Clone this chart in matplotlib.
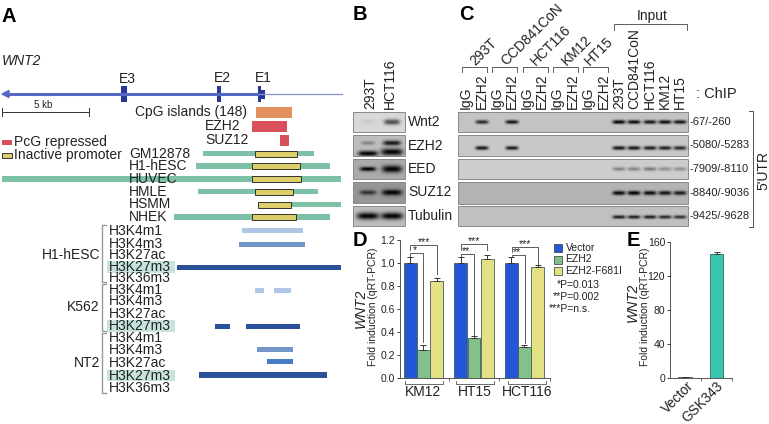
import numpy as np
import matplotlib
matplotlib.use("Agg")
import matplotlib.pyplot as plt
from matplotlib.patches import Rectangle

plt.rcParams['font.family'] = ['Liberation Sans', 'DejaVu Sans']
W, H = 769, 424
fig = plt.figure(figsize=(W/100, H/100), dpi=100)

# ---------- data ----------
d_groups = ['KM12', 'HT15', 'HCT116']
d_series = ['Vector', 'EZH2', 'EZH2-F681I']
d_vector = [1.0, 1.0, 1.0]
d_ezh2 = [0.245, 0.35, 0.27]
d_mut = [0.845, 1.035, 0.965]
d_vector_err = [0.05, 0.05, 0.05]
d_ezh2_err = [0.045, 0.015, 0.02]
d_mut_err = [0.025, 0.035, 0.02]
d_colors = ['#2456D8', '#82C08C', '#E4E084']
e_labels = ['Vector', 'GSK343']
e_vals = [1.0, 146.0]
e_err = [0.3, 2.5]

exons = [(121, 127), (216.5, 221), (258, 261)]
exon_labels = ['E3', 'E2', 'E1']
pcg = [('CpG islands (148)', 256, 292, '#E2915F'), ('EZH2', 252, 287, '#D9505A'), ('SUZ12', 280, 289, '#D9505A')]
chrom_names = ['GM12878', 'H1-hESC', 'HUVEC', 'HMLE', 'HSMM', 'NHEK']
chrom_green = [(203, 314), (196, 330), (2, 341), (198, 318), (258, 341), (174, 330)]
chrom_yellow = [(255, 297), (252, 300), (252, 301), (255, 293), (258, 291), (252, 296)]
marks_a = ['H3K4m1', 'H3K4m3', 'H3K27ac', 'H3K27m3', 'H3K36m3']
marks_b = ['H3K4m1', 'H3K4m3', 'H3K27ac', 'H3K27m3']
marks_c = ['H3K4m1', 'H3K4m3', 'H3K27ac', 'H3K27m3', 'H3K36m3']

bg = fig.add_axes([0, 0, 1, 1])
bg.set_zorder(5)
bg.set_xlim(0, W); bg.set_ylim(H, 0); bg.axis('off')

def T(x, y, s, size=10, ha='left', va='center', **kw):
    return bg.text(x, y, s, fontsize=size, ha=ha, va=va, color=kw.pop('color', '#222222'), **kw)

def R(x0, x1, yc, h, color, **kw):
    bg.add_patch(Rectangle((x0, yc-h/2), x1-x0, h, facecolor=color, **kw))

for x, y, s in [(1, 16, 'A'), (353, 15, 'B'), (459, 15, 'C'), (353, 240, 'D'), (627, 240, 'E')]:
    T(x, y, s, size=14.5, weight='bold', color='black')

# ---------- panel A ----------
T(2, 61, 'WNT2', size=10, style='italic')
bg.plot([5, 259], [94, 94], color='#5668C4', lw=2.2, solid_capstyle='butt')
bg.plot([259, 342], [94, 94], color='#8A93CE', lw=0.9)
bg.fill([2, 9, 9], [94, 90.5, 97.5], color='#5668C4')
for (a, b), s in zip(exons, exon_labels):
    R(a, b, 94, 16, '#27399A')
    T((a+b)/2+3.5, 78.5 if s != 'E3' else 79, s, size=10, ha='center')
R(258, 265, 94, 9, '#27399A')
bg.plot([2, 89], [112, 112], color='#333333', lw=0.7)
for x in (2, 89):
    bg.plot([x, x], [108, 116], color='#333333', lw=0.7)
T(43, 105.5, '5 kb', size=7, ha='center')
ys_pcg = [112, 126, 140]
for (s, a, b, c), y, tx in zip(pcg, ys_pcg, [135, 205, 205]):
    R(a, b, y, 11, c)
    T(tx, y, s)
R(2, 12, 142, 5, '#D9505A')
T(14, 142, 'PcG repressed')
R(2, 12, 155.5, 5, '#DCCF6A', edgecolor='#333333', lw=0.7)
T(14, 155.5, 'Inactive promoter')
ys_chrom = [153.5, 166, 179, 191.5, 204.5, 217]
for name, (a, b), (c, d), y in zip(chrom_names, chrom_green, chrom_yellow, ys_chrom):
    R(a, b, y, 5.5, '#7CC0A6')
    R(c, d, y, 6, '#DCCF6A', edgecolor='#333333', lw=0.7)
    T(129, y, name)

def track_block(names, ys, highlight):
    for n, y in zip(names, ys):
        if n == highlight:
            R(107, 175, y, 11.5, '#C6E3DD')
        T(109, y, n)

ys_a = [231, 243.5, 255, 267, 278.5]
ys_b = [289.5, 301, 314, 326]
ys_c = [338, 350, 363, 375.5, 388]
track_block(marks_a, ys_a, 'H3K27m3')
track_block(marks_b, ys_b, 'H3K27m3')
track_block(marks_c, ys_c, 'H3K27m3')
for y0, y1 in [(225, 282), (284, 331), (333, 393)]:
    bg.plot([106, 102, 102, 106], [y0, y0, y1, y1], color='#999999', lw=1.0)
T(100, 255, 'H1-hESC', ha='right')
T(100, 307, 'K562', ha='right')
T(100, 363, 'NT2', ha='right')

c1, c2, c3, c4 = '#AFC6E6', '#7396C8', '#477BC6', '#2B5198'
R(242, 303, 230.5, 5, c1)
R(239, 305, 244, 5, c2)
R(177, 341, 267.5, 5.5, c4)
R(255, 264, 290, 5, c1)
R(274, 291, 290, 5, c1)
R(215, 230, 326.5, 5.5, c4)
R(246, 300, 326.5, 5.5, c4)
R(257, 293, 349.5, 5.5, c2)
R(267, 293, 361.5, 5.5, c3)
R(199, 327, 375, 5.5, c4)

# ---------- blots ----------
lanes_c = [466, 482, 497, 512, 527, 542, 557, 573, 588, 604, 619, 634, 650, 665, 680]
c_rows = [
    (112, 132, 122, [0, .8, 0, .9, 0, 0, 0, 0, 0, 0, 1, .95, .9, .95, .9], 196, 2.0),
    (135, 156, 148, [0, .9, 0, .85, 0, 0, 0, 0, 0, 0, .9, .9, .85, .85, .8], 200, 2.0),
    (159, 179, 169, [0, 0, 0, 0, 0, 0, 0, 0, 0, 0, .35, .35, .4, .3, .3], 205, 2.0),
    (182, 204, 193, [0, 0, 0, 0, 0, 0, 0, 0, 0, 0, .95, 1, .95, .9, .85], 180, 2.2),
    (206, 226, 217, [0, 0, 0, 0, 0, 0, 0, 0, 0, 0, .85, .85, .85, .8, .75], 192, 1.8),
]
c_rlabels = ['-67/-260', '-5080/-5283', '-7909/-8110', '-8840/-9036', '-9425/-9628']
b_rows = [
    (112, 132, 'Wnt2', 216, [(368, 122, 2.5, .06, 6), (392, 122, 2.8, .65, 8)]),
    (135, 156, 'EZH2', 190, [(368, 143, 2.0, .3, 7), (392, 143, 2.6, .9, 9), (368, 153.5, 2.8, 1.0, 10), (392, 152, 3.6, 1.0, 11)]),
    (159, 179, 'EED', 170, [(368, 169, 2.2, 1.0, 8), (392, 169, 3.6, 1.0, 10)]),
    (182, 203, 'SUZ12', 150, [(368, 192.5, 2.4, .7, 8), (392, 192.5, 3.0, 1.0, 10)]),
    (206, 226, 'Tubulin', 190, [(368, 216, 3.6, 1.0, 11), (392, 216, 3.6, 1.0, 11)]),
]

def blot_image(x0, x1, y0, y1, base, bands):
    xs = np.arange(x0, x1) + .5
    ys = np.arange(y0, y1) + .5
    X, Y = np.meshgrid(xs, ys)
    img = np.full(X.shape, float(base))
    for bx, by, sy, amp, sx in bands:
        g = np.exp(-((np.abs(X-bx)/sx)**4)) * np.exp(-((Y-by)/sy)**2)
        img *= 1 - np.clip(amp*g, 0, 1)*0.97
    bg.imshow(img, extent=(x0, x1, y1, y0), cmap='gray', vmin=0, vmax=255, aspect='auto', zorder=1, interpolation='bilinear')
    bg.add_patch(Rectangle((x0, y0), x1-x0, y1-y0, fill=False, edgecolor='#8a8a8a', lw=.7, zorder=2))

for (y0, y1, yb, amps, base, sy), lab in zip(c_rows, c_rlabels):
    bands = [(lx, yb, sy, a, 6.5) for lx, a in zip(lanes_c, amps) if a > 0]
    blot_image(458, 688, y0, y1, base, bands)
    T(690, (y0+y1)/2, lab, size=8)

for y0, y1, lab, base, bands in b_rows:
    blot_image(353, 405, y0, y1, base, bands)
    T(408, (y0+y1)/2, lab)
bg.set_xlim(0, W); bg.set_ylim(H, 0)

T(370, 109, '293T', rotation=90, ha='center', va='bottom')
T(390, 109, 'HCT116', rotation=90, ha='center', va='bottom')

# panel C labels
for i, x in enumerate(lanes_c[:10]):
    T(x, 109, 'IgG' if i % 2 == 0 else 'EZH2', rotation=90, ha='center', va='bottom')
cell_lines = ['293T', 'CCD841CoN', 'HCT116', 'KM12', 'HT15']
for x, s in zip(lanes_c[10:], cell_lines):
    T(x, 109, s, rotation=90, ha='center', va='bottom')
br_left = [462, 492, 523, 553, 583]
br_right = [487, 517, 548, 578, 608]
name_x = [472, 503, 533, 564, 587]
for xl, xr, nx, s in zip(br_left, br_right, name_x, cell_lines):
    bg.plot([xl, xl, xr, xr], [72, 66.5, 66.5, 72], color='#444444', lw=.6)
    T(nx, 63, s, rotation=45, ha='left', va='center', rotation_mode='anchor')
bg.plot([614, 614, 687, 687], [30, 24, 24, 30], color='#444444', lw=.6)
T(652, 16, 'Input', ha='center')
T(696, 94, ': ChIP', size=10.5)
bg.plot([749, 753, 753, 749], [111, 111, 227, 227], color='#333333', lw=.6)
T(763, 170, "5'UTR", size=10, rotation=90, ha='center')

# ---------- panel D ----------
axd = fig.add_axes([400/W, 1-378/H, 150/W, 138/H])
x = np.arange(3)
bw = .262
for k, (vals, errs, col, name) in enumerate(zip([d_vector, d_ezh2, d_mut], [d_vector_err, d_ezh2_err, d_mut_err], d_colors, d_series)):
    axd.bar(x+(k-1)*bw, vals, bw*.96, color=col, edgecolor='#40605a', lw=.6,
            yerr=[np.zeros(3), errs], error_kw=dict(ecolor='#333333', elinewidth=.7, capsize=2, capthick=.7))
axd.set_xlim(-.465, 2.505)
axd.set_ylim(0, 1.2)
axd.set_yticks([0, .2, .4, .6, .8, 1.0, 1.2])
axd.set_xticks([.5, 1.5, 2.5])
axd.set_xticklabels([])
axd.tick_params(axis='y', labelsize=7.5, length=2, width=.6, pad=1.5, colors='#222222')
axd.tick_params(axis='x', length=2, width=.6, colors='#555555')
for s in ['top', 'right']:
    axd.spines[s].set_visible(False)
for s in ['left', 'bottom']:
    axd.spines[s].set_linewidth(.7); axd.spines[s].set_color('#555555')
T(373, 307, 'Fold induction (qRT-PCR)', size=7.5, rotation=90, ha='center')
T(361, 308, 'WNT2', size=10, rotation=90, ha='center', style='italic')
for g, xc in zip(d_groups, [423.5, 474.5, 527]):
    bg.plot([xc-19, xc-19, xc+19, xc+19], [381, 384, 384, 381], color='#555555', lw=.6)
    T(xc, 392, g, ha='center')

# significance brackets
def bracket(x0, x1, ytop, y0, y1, star):
    bg.plot([x0, x0, x1, x1], [y0, ytop, ytop, y1], color='#444444', lw=.6, zorder=5)
    T((x0+x1)/2 if star == '***' else x0+(x1-x0)*.4, ytop-3, star, size=7.5, ha='center')

bracket(410, 437, 245, 250, 274, '***')
bracket(410, 423, 253, 257, 342, '*')
bracket(461, 487, 244, 250, 250, '***')
bracket(461, 474, 254, 257, 337, '**')
bracket(512, 538, 247, 252, 264, '***')
bracket(512, 525, 255, 257, 343, '**')

leg_y = [248, 259.5, 271]
for y, s, c in zip(leg_y, d_series, d_colors):
    bg.add_patch(Rectangle((554, y-4), 8, 8, facecolor=c, edgecolor='#333333', lw=.5))
    T(565.5, y, s, size=7.5)
T(557, 284.5, '*P=0.013', size=7.5)
T(553, 297, '**P=0.002', size=7.5)
T(549, 309.5, '***P=n.s.', size=7.5)

# ---------- panel E ----------
axe = fig.add_axes([670/W, 1-378/H, 62/W, 136/H])
axe.bar([0, 1], e_vals, .43, color=['#111111', '#37C6B0'], edgecolor='#2b6a60', lw=.6,
        yerr=[[0, 0], e_err], error_kw=dict(ecolor='#333333', elinewidth=.7, capsize=2.5, capthick=.7))
axe.set_xlim(-.476, 1.492)
axe.set_ylim(0, 160)
axe.set_yticks([0, 40, 80, 120, 160])
axe.set_xticks([.5, 1.49])
axe.set_xticklabels([])
axe.tick_params(axis='y', labelsize=7.5, length=2, width=.6, pad=1.5, colors='#222222')
axe.tick_params(axis='x', length=2, width=.6, colors='#555555')
for s in ['top', 'right']:
    axe.spines[s].set_visible(False)
for s in ['left', 'bottom']:
    axe.spines[s].set_linewidth(.7); axe.spines[s].set_color('#555555')
T(645, 307, 'Fold induction (qRT-PCR)', size=7.5, rotation=90, ha='center')
T(633, 302, 'WNT2', size=10, rotation=90, ha='center', style='italic')
T(692, 384, e_labels[0], size=9.8, rotation=45, ha='right', va='center', rotation_mode='anchor')
T(721, 384, e_labels[1], size=9.8, rotation=45, ha='right', va='center', rotation_mode='anchor')

fig.savefig('out.png', dpi=100)
